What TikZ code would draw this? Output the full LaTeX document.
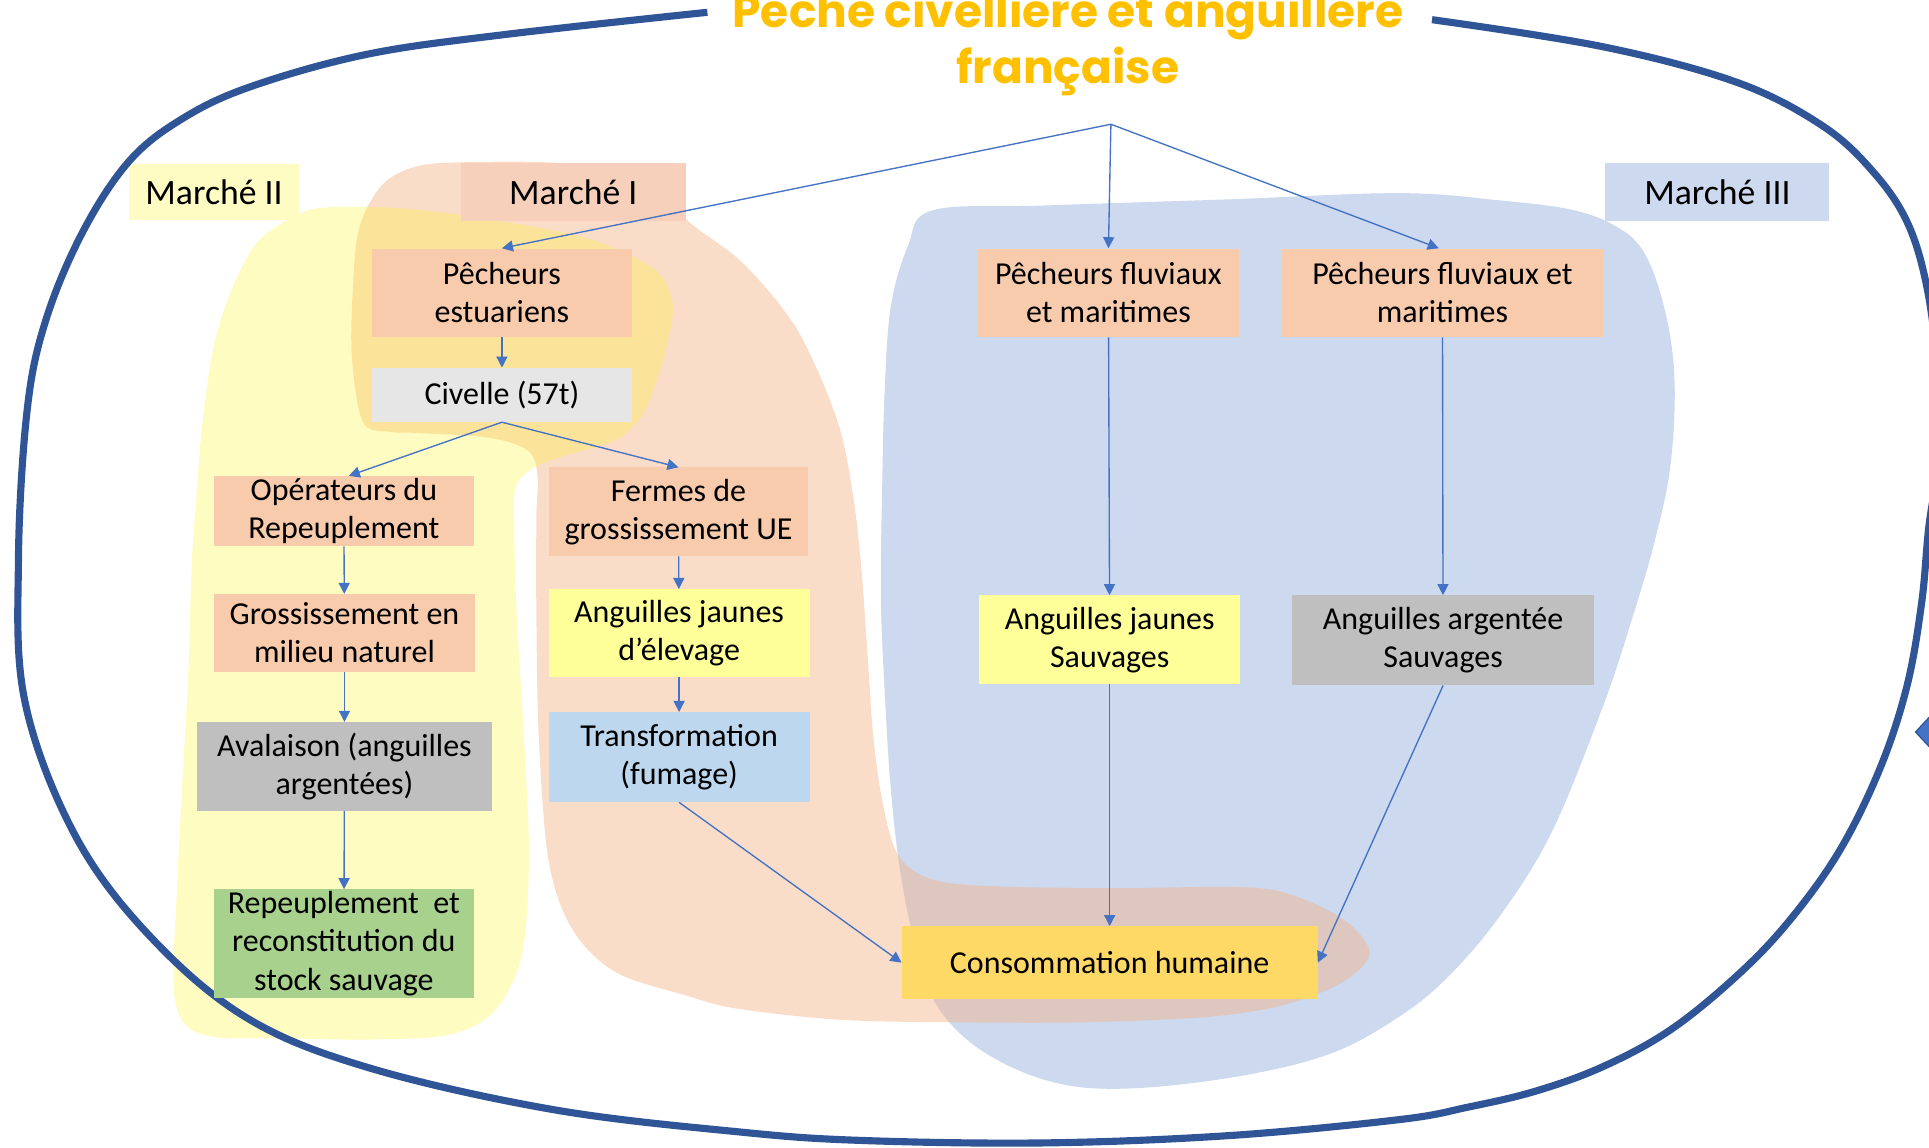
\documentclass[tikz,border=0pt]{standalone}
\usepackage{fontspec}
\setmainfont{Carlito}
\newfontfamily\titlefont{Poppins}
\usetikzlibrary{arrows.meta}
\definecolor{outerblue}{HTML}{2F5597}
\definecolor{titleorange}{HTML}{FFC000}
\definecolor{arrowblue}{HTML}{4472C4}
\definecolor{blobblue}{HTML}{CDD9EE}
\definecolor{bloborange}{HTML}{F4B183}
\definecolor{blobyellow}{HTML}{FFF519}
\definecolor{peach}{HTML}{F8CBAD}
\definecolor{lightgray}{HTML}{E7E6E6}
\definecolor{midgray}{HTML}{BFBFBF}
\definecolor{paleyellow}{HTML}{FFFF99}
\definecolor{paleblue}{HTML}{BDD7EE}
\definecolor{palegreen}{HTML}{A9D18E}
\definecolor{gold}{HTML}{FFD966}
\definecolor{labelyellow}{HTML}{FFFCC3}
\definecolor{labelorange}{HTML}{F6D0BA}
\tikzset{
  box/.style={inner sep=0pt, align=center, font=\fontsize{26}{31}\selectfont},
  marche/.style={inner sep=0pt, font=\fontsize{29}{34}\selectfont},
  conn/.style={draw=arrowblue, line width=1.1pt, -{Triangle[length=9pt,width=9pt]}},
  titletext/.style={anchor=base, text=titleorange, font=\titlefont\bfseries\fontsize{37}{46}\selectfont}
}
\begin{document}
\begin{tikzpicture}[x=1pt,y=-1pt]
\useasboundingbox (0,0) rectangle (1568,933);

% blobs
\fill[blobblue] plot[smooth cycle, tension=0.6] coordinates {
(758,171) (850,167) (1000,162) (1138,157) (1220,163) (1275,170) (1310,182) (1335,203) (1352,247) (1361,305) (1358,377) (1345,440) (1326,505) (1303,574) (1262,675) (1221,742) (1179,792) (1138,826) (1080,857) (1000,876) (910,885) (850,878) (795,852) (760,815) (744,768) (732,710) (724,640) (719,560) (716,485) (717,400) (719,320) (724,250) (738,200)};

\fill[bloborange, opacity=0.44] plot[smooth cycle, tension=0.55] coordinates {
(287,232) (292,185) (310,151) (336,136) (373,132) (460,133) (525,148) (562,182) (605,215) (648,268) (680,340) (693,400) (700,460) (705,530) (710,600) (718,655) (730,695) (755,714) (800,720) (900,722) (1005,721) (1049,727) (1093,748) (1113,772) (1104,789) (1078,805) (1035,819) (977,827) (880,831) (780,831) (684,829) (600,820) (557,809) (500,790) (465,755) (446,700) (438,600) (436,500) (436,420) (437,388) (430,367) (399,356) (340,352) (317,351) (295,343) (286,290)};

\fill[blobyellow, opacity=0.27] plot[smooth cycle, tension=0.55] coordinates {
(141,800) (144,720) (148,640) (153,548) (156,455) (160,400) (164,348) (172,290) (181,255) (193,225) (209,197) (235,178) (261,169) (320,169) (384,176) (471,192) (515,209) (538,225) (547,250) (541,285) (532,315) (521,339) (500,358) (457,371) (431,382) (419,397) (418,430) (420,500) (426,600) (430,693) (426,766) (414,804) (394,829) (360,842) (300,845) (230,844) (175,843) (150,832)};

% market labels
\node[marche, fill=labelyellow, minimum width=138pt, minimum height=46pt] (m2) at (174,156) {Marché II};
\node[marche, fill=labelorange, minimum width=183pt, minimum height=47pt] (m1) at (466,156) {Marché I};
\node[marche, fill=blobblue, minimum width=182pt, minimum height=47pt] (m3) at (1396,156) {Marché III};

% outer frame
\draw[outerblue, line width=5.8pt] plot[smooth, tension=0.6] coordinates {
(1164,16) (1303,38) (1412,67) (1481,102) (1522,139) (1550,180) (1566,232) (1575,300) (1577,365) (1568,427) (1562,490) (1550,558) (1528,625) (1495,692) (1454,749) (1412,793) (1358,837) (1303,867) (1248,887) (1193,900) (1138,910) (1000,923) (850,929) (700,927) (600,920) (450,902) (300,868) (200,827) (120,759) (60,677) (20,569) (15,455) (22,334) (37,261) (67,189) (105,131) (149,96) (205,70) (299,44) (411,28) (575,10)};

% partial arrowhead at the right edge
\fill[arrowblue, draw=outerblue, line width=1pt] (1557,595) -- (1571,580) -- (1585,595) -- (1571,610) -- cycle;

% title
\node[titletext] (t1) at (868,22) {Pêche civellière et anguillère};
\node[titletext] (t2) at (868,68) {française};
\coordinate (hub) at (903,101);

% boxes
\node[box, fill=peach, minimum width=212pt, minimum height=72pt] (pe) at (408,238) {Pêcheurs\\estuariens};
\node[box, fill=lightgray, minimum width=212pt, minimum height=44pt] (civ) at (408,321) {Civelle (57t)};
\node[box, fill=peach, minimum width=211pt, minimum height=57pt] (op) at (279.5,415.5) {Opérateurs du\\Repeuplement};
\node[box, fill=peach, minimum width=211pt, minimum height=72pt] (fe) at (551.5,416) {Fermes de\\grossissement UE};
\node[box, fill=peach, minimum width=212pt, minimum height=63pt] (gr) at (280,514.5) {Grossissement en\\milieu naturel};
\node[box, fill=paleyellow, minimum width=212pt, minimum height=71pt] (aje) at (552,514.5) {Anguilles jaunes\\d’élevage};
\node[box, fill=midgray, minimum width=240pt, minimum height=72pt] (av) at (280,623) {Avalaison (anguilles\\argentées)};
\node[box, fill=paleblue, minimum width=212pt, minimum height=73pt] (tr) at (552,615.5) {Transformation\\(fumage)};
\node[box, fill=palegreen, minimum width=211pt, minimum height=88pt] (rep) at (279.5,767) {Repeuplement~ et\\reconstitution du\\stock sauvage};
\node[box, fill=gold, minimum width=338pt, minimum height=59pt] (co) at (902,782.5) {Consommation humaine};
\node[box, fill=peach, minimum width=212pt, minimum height=72pt] (pfl) at (901,238) {Pêcheurs fluviaux\\et maritimes};
\node[box, fill=peach, minimum width=261pt, minimum height=72pt] (pfr) at (1172.5,238) {Pêcheurs fluviaux et\\maritimes};
\node[box, fill=paleyellow, minimum width=212pt, minimum height=72pt] (ajs) at (902,520) {Anguilles jaunes\\Sauvages};
\node[box, fill=midgray, minimum width=246pt, minimum height=73pt] (aas) at (1173,520.5) {Anguilles argentée\\Sauvages};

% connectors
\draw[conn] (hub) -- (pe.north);
\draw[conn] (hub) -- (pfl.north);
\draw[conn] (hub) -- ([xshift=-3pt]pfr.north);
\draw[conn] (pe) -- (civ);
\draw[conn] (civ.south) -- ([xshift=4pt]op.north);
\draw[conn] (civ.south) -- (fe.north);
\draw[conn] (op) -- (gr);
\draw[conn] (gr) -- (av);
\draw[conn] (av) -- (rep);
\draw[conn] (fe) -- (aje);
\draw[conn] (aje) -- (tr);
\draw[conn] (tr.south) -- (co.west);
\draw[conn] (pfl) -- (ajs);
\draw[conn] (pfr) -- (aas);
\draw[conn] (ajs) -- (co);
\draw[conn] (aas.south) -- (co.east);
\end{tikzpicture}
\end{document}
